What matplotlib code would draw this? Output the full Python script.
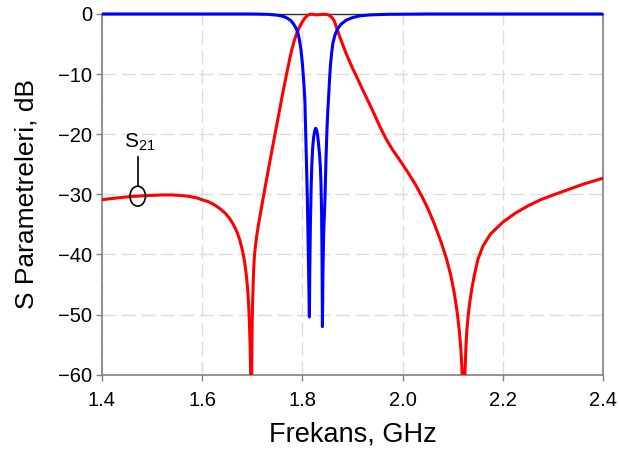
import matplotlib
matplotlib.use("Agg")
import matplotlib.pyplot as plt
from matplotlib.patches import Ellipse, Rectangle

plt.rcParams['font.family'] = ['Liberation Sans', 'DejaVu Sans']
plt.rcParams['axes.unicode_minus'] = True

# S21 (transmission) of the bandpass filter, dB
freq_s21 = [1.400, 1.430, 1.460, 1.490, 1.520, 1.540, 1.560, 1.575, 1.590, 1.600,
            1.612, 1.624, 1.636, 1.646, 1.655, 1.663, 1.670, 1.676, 1.681, 1.685,
            1.688, 1.691, 1.693, 1.6945, 1.696, 1.697, 1.698, 1.699, 1.6995, 1.700,
            1.701, 1.7025, 1.704, 1.706, 1.709, 1.712, 1.716, 1.720, 1.730, 1.740,
            1.747, 1.755, 1.762, 1.770, 1.776, 1.780, 1.784, 1.788, 1.792, 1.796,
            1.800, 1.804, 1.808, 1.812, 1.816, 1.822, 1.827, 1.835, 1.843, 1.850,
            1.854, 1.857, 1.860, 1.863, 1.866, 1.870, 1.875, 1.880, 1.886, 1.893,
            1.900, 1.908, 1.918, 1.930, 1.943, 1.955, 1.967, 1.980, 1.995, 2.010,
            2.025, 2.040, 2.052, 2.064, 2.076, 2.087, 2.096, 2.103, 2.109, 2.113,
            2.116, 2.118, 2.1195, 2.1205, 2.121, 2.1225, 2.124, 2.126, 2.128, 2.131,
            2.134, 2.138, 2.143, 2.150, 2.160, 2.175, 2.200, 2.225, 2.250, 2.275,
            2.300, 2.330, 2.360, 2.400]
s21_db = [-30.9, -30.6, -30.35, -30.2, -30.1, -30.1, -30.2, -30.35, -30.6, -30.9,
          -31.2, -31.7, -32.4, -33.1, -34.0, -35.1, -36.3, -37.8, -39.5, -41.3,
          -43.2, -45.8, -48.5, -51.5, -55.5, -60.0, -80.0, -60.0, -55.0, -51.0,
          -47.5, -43.5, -40.8, -38.9, -36.9, -35.3, -33.4, -31.5, -26.9, -22.4,
          -19.3, -15.8, -12.7, -9.4, -7.0, -5.6, -4.4, -3.4, -2.6, -1.9,
          -1.3, -0.8, -0.4, -0.15, -0.05, -0.05, -0.15, -0.1, -0.05, -0.1,
          -0.25, -0.45, -0.7, -1.05, -1.7, -2.7, -3.9, -5.0, -6.3, -7.7,
          -9.0, -10.4, -12.2, -14.3, -16.6, -18.8, -20.8, -22.6, -24.4, -26.3,
          -28.3, -30.6, -32.7, -35.1, -37.8, -40.6, -43.5, -46.5, -49.8, -52.8,
          -55.8, -58.8, -62.5, -68.0, -80.0, -68.0, -60.0, -55.5, -52.5, -49.8,
          -47.8, -45.6, -43.4, -40.8, -38.6, -36.6, -34.6, -33.1, -31.9, -30.9,
          -30.1, -29.2, -28.3, -27.3]

# S11 (reflection) of the bandpass filter, dB
freq_s11 = [1.400, 1.700, 1.730, 1.750, 1.762, 1.770, 1.777, 1.782, 1.787, 1.791,
            1.794, 1.797, 1.800, 1.803, 1.805, 1.8075, 1.810, 1.812, 1.814, 1.8148,
            1.8160, 1.8175, 1.8187, 1.8205, 1.8225, 1.8245, 1.8265, 1.8285, 1.8305, 1.8325,
            1.8345, 1.8360, 1.8372, 1.8383, 1.8392, 1.840, 1.8410, 1.8425, 1.845, 1.847,
            1.849, 1.8505, 1.852, 1.854, 1.856, 1.8585, 1.861, 1.865, 1.870, 1.877,
            1.888, 1.900, 1.915, 1.935, 1.970, 2.050, 2.400]
s11_db = [0.0, 0.0, -0.05, -0.2, -0.4, -0.7, -1.1, -1.6, -2.3, -3.1,
          -4.2, -5.8, -8.2, -11.5, -14.3, -22.5, -30.9, -40.5, -50.4, -43.0,
          -35.0, -29.0, -25.4, -22.3, -20.5, -19.5, -19.0, -19.3, -20.2, -21.8,
          -23.6, -25.6, -28.5, -33.0, -40.0, -52.0, -43.0, -36.5, -30.9, -24.5,
          -19.3, -16.5, -14.3, -11.2, -8.5, -6.4, -4.8, -3.5, -2.5, -1.7,
          -1.0, -0.6, -0.3, -0.15, -0.05, 0.0, 0.0]

x_ticks = [1.4, 1.6, 1.8, 2.0, 2.2, 2.4]
x_ticklabels = ["1.4", "1.6", "1.8", "2.0", "2.2", "2.4"]
y_ticks = [0, -10, -20, -30, -40, -50, -60]

fig = plt.figure(figsize=(6.19, 4.53), dpi=100)
ax = fig.add_axes([0.1643, 0.1728, 0.8104, 0.7963])

ax.set_xlim(1.4, 2.4)
ax.set_ylim(-60, 0)

# clip traces at the plot bottom only, so the 0 dB lines stay full width
clip_rect = Rectangle((0, 0), 1, 1.05, transform=ax.transAxes, visible=False)
ax.add_patch(clip_rect)

l_s21, = ax.plot(freq_s21, s21_db, color='#ff0000', lw=2.2, zorder=3,
                 solid_joinstyle='round')
l_s11, = ax.plot(freq_s11, s11_db, color='#0000ff', lw=2.2, zorder=4,
                 solid_joinstyle='round')
for ln in (l_s21, l_s11):
    ln.set_clip_path(clip_rect)

ax.set_xticks(x_ticks)
ax.set_xticklabels(x_ticklabels)
ax.set_yticks(y_ticks)

ax.grid(True, color='#dcdcdc', lw=1.0, linestyle=(0, (10, 4)), zorder=0)
ax.set_axisbelow(True)

for side in ('left', 'bottom', 'right'):
    ax.spines[side].set_color('#808080')
    ax.spines[side].set_linewidth(1.2)
ax.spines['top'].set_color('#303030')
ax.spines['top'].set_linewidth(1.0)

ax.tick_params(axis='both', direction='out', length=4, width=1.0,
               color='#808080', labelsize=14.5, labelcolor='#000000')
ax.tick_params(axis='x', pad=8)
ax.tick_params(axis='y', pad=3)

ax.set_xlabel('Frekans, GHz', fontsize=19.5, labelpad=8)
ax.set_ylabel('S Parametreleri, dB', fontsize=19, labelpad=14)

# S21 callout
ax.add_patch(Ellipse((1.4718, -30.3), 0.031, 3.3, fill=False,
                     edgecolor='black', lw=1.2, zorder=5))
ax.plot([1.4718, 1.4718], [-28.65, -23.75], color='black', lw=1.2, zorder=5)
ax.text(1.476, -22.2, r'$\mathregular{S_{21}}$', fontsize=15,
        ha='center', va='baseline', zorder=5)

fig.savefig('out.png', dpi=100)
